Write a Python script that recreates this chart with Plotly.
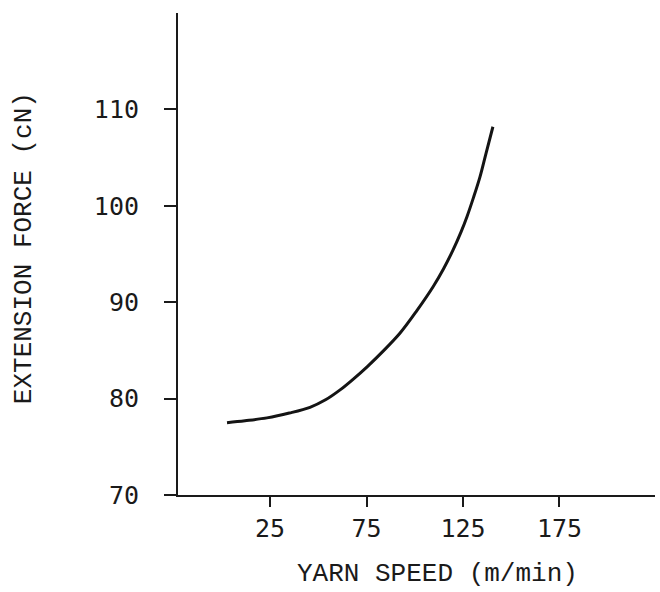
import plotly.graph_objects as go

# Data
yarn_speed = [2.7, 12, 23.4, 35, 45.7, 54, 61.3, 68, 75.3, 84, 92.4, 101, 109.5, 115, 119.8, 124, 127.1, 130.5, 133.8, 137, 140.5]
extension_force = [77.5, 77.7, 78.0, 78.5, 79.1, 79.9, 80.9, 82.0, 83.3, 85.0, 86.8, 89.1, 91.6, 93.5, 95.4, 97.3, 98.9, 100.9, 103.0, 105.5, 108.2]

x_ticks = [25, 75, 125, 175]
y_ticks = [70, 80, 90, 100, 110]
x_title = "YARN SPEED (m/min)"
y_title = "EXTENSION FORCE (cN)"

fig = go.Figure()
fig.add_trace(go.Scatter(
    x=yarn_speed, y=extension_force, mode="lines",
    line=dict(color="#141414", width=3, shape="spline"),
    showlegend=False, hoverinfo="skip",
))

ink = "#1a1a1a"
tick_font = dict(family="DejaVu Sans Mono", size=25, color=ink)
title_font = dict(family="Courier New, Liberation Mono, monospace", size=26, color=ink)

fig.update_layout(
    width=660, height=592,
    margin=dict(l=178, r=5, t=13, b=97, autoexpand=False),
    paper_bgcolor="white", plot_bgcolor="white",
    xaxis=dict(
        range=[-22.7, 224.5], tickvals=x_ticks, ticktext=[str(v) for v in x_ticks],
        showgrid=False, zeroline=False, showline=True, linecolor=ink, linewidth=2,
        ticks="outside", ticklen=10, tickwidth=2, tickcolor=ink,
        tickfont=tick_font, automargin=False,
    ),
    yaxis=dict(
        range=[70, 120], tickvals=y_ticks, ticktext=[str(v) for v in y_ticks],
        showgrid=False, zeroline=False, showline=True, linecolor=ink, linewidth=2,
        ticks="outside", ticklen=12, tickwidth=2, tickcolor=ink,
        tickfont=tick_font, automargin=False, ticklabelstandoff=20,
    ),
    annotations=[
        dict(text=x_title, xref="paper", yref="paper", x=0.545, y=-0.164,
             showarrow=False, font=title_font, xanchor="center", yanchor="middle"),
        dict(text=y_title, xref="paper", yref="paper", x=-0.323, y=0.512,
             showarrow=False, font=title_font, textangle=-90,
             xanchor="center", yanchor="middle"),
    ],
)

fig.write_html(
    "out.html",
    config={"displayModeBar": False},
    post_script="document.body.style.margin='0';document.body.style.overflow='hidden';",
)
